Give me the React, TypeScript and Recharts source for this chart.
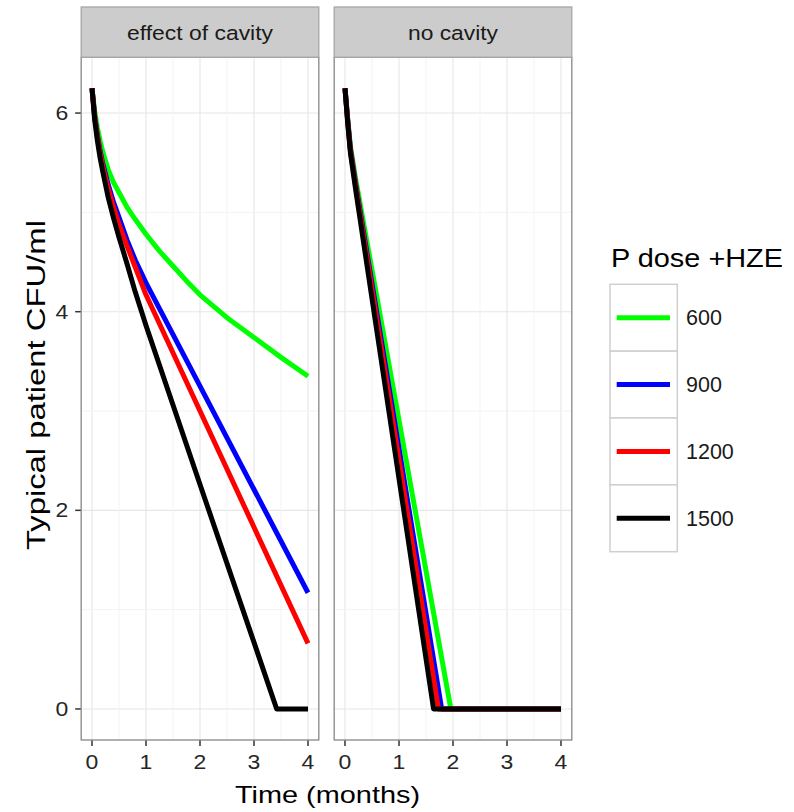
import React from "react";
import { LineChart, Line, XAxis, YAxis, CartesianGrid, ReferenceLine } from "recharts";

const FONT = "'Liberation Sans', Arial, Helvetica, sans-serif";

const monthTicks = [0, 1, 2, 3, 4];
const monthMinor = [0.5, 1.5, 2.5, 3.5];
const cfuTicks = [0, 2, 4, 6];
const cfuMinor = [1, 3, 5];

const doses = ["600", "900", "1200", "1500"];
const doseColors = ["#00FF00", "#0000FF", "#FF0000", "#000000"];
const panelNames = ["effect of cavity", "no cavity"];

// effect of cavity
const cavT600 = [0, 0.05, 0.1, 0.15, 0.2, 0.3, 0.4, 0.5, 0.65, 0.8, 1, 1.25, 1.5, 1.75, 2, 2.5, 3, 3.5, 4];
const cavV600 = [6.25, 6.02, 5.85, 5.72, 5.61, 5.43, 5.3, 5.2, 5.05, 4.93, 4.78, 4.61, 4.46, 4.31, 4.17, 3.94, 3.74, 3.54, 3.35];
const cavT900 = [0, 0.05, 0.1, 0.15, 0.2, 0.3, 0.4, 0.5, 0.65, 0.8, 1, 2, 3, 4];
const cavV900 = [6.25, 5.97, 5.78, 5.62, 5.49, 5.28, 5.1, 4.95, 4.72, 4.52, 4.29, 3.25, 2.21, 1.17];
const cavT1200 = [0, 0.05, 0.1, 0.15, 0.2, 0.3, 0.4, 0.5, 0.65, 0.8, 1, 2, 3, 4];
const cavV1200 = [6.25, 5.96, 5.76, 5.6, 5.46, 5.24, 5.05, 4.88, 4.66, 4.45, 4.17, 3.0, 1.83, 0.66];
const cavT1500 = [0, 0.05, 0.1, 0.15, 0.2, 0.3, 0.4, 0.5, 0.65, 0.8, 1, 2, 3, 3.42, 4];
const cavV1500 = [6.25, 5.93, 5.72, 5.55, 5.41, 5.15, 4.94, 4.75, 4.48, 4.2, 3.86, 2.26, 0.67, 0, 0];

// no cavity
const noT600 = [0, 0.05, 0.1, 0.2, 1.96, 4];
const noV600 = [6.25, 5.94, 5.67, 5.33, 0, 0];
const noT900 = [0, 0.05, 0.1, 0.2, 1.79, 4];
const noV900 = [6.25, 5.93, 5.64, 5.28, 0, 0];
const noT1200 = [0, 0.05, 0.1, 0.2, 1.73, 4];
const noV1200 = [6.25, 5.92, 5.62, 5.26, 0, 0];
const noT1500 = [0, 0.05, 0.1, 0.2, 1.64, 4];
const noV1500 = [6.25, 5.9, 5.6, 5.22, 0, 0];

const pts = (ts: number[], vs: number[]) => ts.map((t, i) => ({ t, v: vs[i] }));

const cavitySeries = [pts(cavT600, cavV600), pts(cavT900, cavV900), pts(cavT1200, cavV1200), pts(cavT1500, cavV1500)];
const noCavitySeries = [pts(noT600, noV600), pts(noT900, noV900), pts(noT1200, noV1200), pts(noT1500, noV1500)];

// the reference is a little wider than tall, so tick text is stretched sideways
const XTick = (props: any) => {
  const { x, y, payload } = props;
  return (
    <g transform={`translate(${x} ${y}) scale(1.15 1)`}>
      <text x={0} y={0} dy="0.71em" textAnchor="middle" fontSize={20} fill="#262626" fontFamily={FONT}>
        {payload.value}
      </text>
    </g>
  );
};

const YTick = (props: any) => {
  const { x, y, payload } = props;
  return (
    <g transform={`translate(${x} ${y}) scale(1.15 1)`}>
      <text x={0} y={0} dy="0.355em" textAnchor="end" fontSize={20} fill="#262626" fontFamily={FONT}>
        {payload.value}
      </text>
    </g>
  );
};

// plot area geometry
const TOP = 57.2;
const BOTTOM = 740;
const PW = 237.6;
const LEFT1 = 81.2;
const LEFT2 = 334.2;

function Panel({ series, showY, left, width }: { series: any[]; showY: boolean; left: number; width: number }) {
  const yw = showY ? 60 : 0;
  const plotLeft = showY ? LEFT1 : LEFT2;
  return (
    <div style={{ position: "absolute", left, top: 0 }}>
      <LineChart
        width={width}
        height={812}
        margin={{ top: TOP, bottom: 812 - BOTTOM - 40, left: plotLeft - left - yw, right: width - (plotLeft - left) - PW }}
      >
        <CartesianGrid stroke="#E6E6E6" strokeWidth={1.1} />
        {monthMinor.map((m) => (
          <ReferenceLine key={`mx${m}`} x={m} stroke="#F3F3F3" strokeWidth={1} />
        ))}
        {cfuMinor.map((m) => (
          <ReferenceLine key={`my${m}`} y={m} stroke="#F3F3F3" strokeWidth={1} />
        ))}
        <XAxis
          type="number"
          dataKey="t"
          domain={[-0.2, 4.2]}
          ticks={monthTicks}
          interval={0}
          height={40}
          axisLine={false}
          tickSize={6}
          tickMargin={9}
          tickLine={{ stroke: "#333", strokeWidth: 1.5 }}
          tick={<XTick />}
        />
        <YAxis
          type="number"
          dataKey="v"
          domain={[-0.3125, 6.5625]}
          ticks={cfuTicks}
          interval={0}
          hide={!showY}
          width={yw}
          axisLine={false}
          tickSize={6}
          tickMargin={7}
          tickLine={{ stroke: "#333", strokeWidth: 1.5 }}
          tick={<YTick />}
        />
        {series.map((d, i) => (
          <Line
            key={doses[i]}
            data={d}
            dataKey="v"
            type="linear"
            stroke={doseColors[i]}
            strokeWidth={5}
            strokeLinejoin="round"
            dot={false}
            activeDot={false}
            isAnimationActive={false}
          />
        ))}
      </LineChart>
    </div>
  );
}

function Overlay() {
  const stripY = 7;
  const keyTop = 284.3;
  const keyH = 66.85;
  return (
    <svg width={794} height={812} style={{ position: "absolute", left: 0, top: 0, pointerEvents: "none" }}>
      {[LEFT1, LEFT2].map((x, i) => (
        <g key={panelNames[i]}>
          <rect x={x} y={TOP} width={PW} height={BOTTOM - TOP} fill="none" stroke="#8C8C8C" strokeWidth={1.3} />
          <rect x={x} y={stripY} width={PW} height={TOP - stripY} fill="#CCCCCC" stroke="#A6A6A6" strokeWidth={1.3} />
          <text
            x={x + PW / 2}
            y={40}
            textAnchor="middle"
            fontSize={20.5}
            fill="#1A1A1A"
            fontFamily={FONT}
            textLength={i === 0 ? 146 : 90}
            lengthAdjust="spacingAndGlyphs"
          >
            {panelNames[i]}
          </text>
        </g>
      ))}
      <text x={327.5} y={803} textAnchor="middle" fontSize={24} fill="#000" fontFamily={FONT} textLength={185} lengthAdjust="spacingAndGlyphs">
        Time (months)
      </text>
      <text
        transform="translate(45 385) rotate(-90)"
        textAnchor="middle"
        fontSize={26}
        fill="#000"
        fontFamily={FONT}
        textLength={330}
        lengthAdjust="spacingAndGlyphs"
      >
        Typical patient CFU/ml
      </text>
      <text x={611} y={266.7} fontSize={25} fill="#000" fontFamily={FONT} textLength={172} lengthAdjust="spacingAndGlyphs">
        P dose +HZE
      </text>
      {doses.map((d, i) => {
        const y = keyTop + i * keyH;
        return (
          <g key={d}>
            <rect x={610} y={y} width={67.3} height={keyH} fill="#fff" stroke="#CFCFCF" strokeWidth={1.5} />
            <line x1={616.7} x2={670} y1={y + keyH / 2} y2={y + keyH / 2} stroke={doseColors[i]} strokeWidth={5} />
            <text x={686} y={y + keyH / 2} dy="0.355em" fontSize={21.5} fill="#1A1A1A" fontFamily={FONT}>
              {d}
            </text>
          </g>
        );
      })}
    </svg>
  );
}

export default function App() {
  return (
    <div style={{ position: "absolute", left: 0, top: 0, width: 794, height: 812, background: "#fff", fontFamily: FONT }}>
      <Panel series={cavitySeries} showY left={0} width={330} />
      <Panel series={noCavitySeries} showY={false} left={320} width={260} />
      <Overlay />
    </div>
  );
}
